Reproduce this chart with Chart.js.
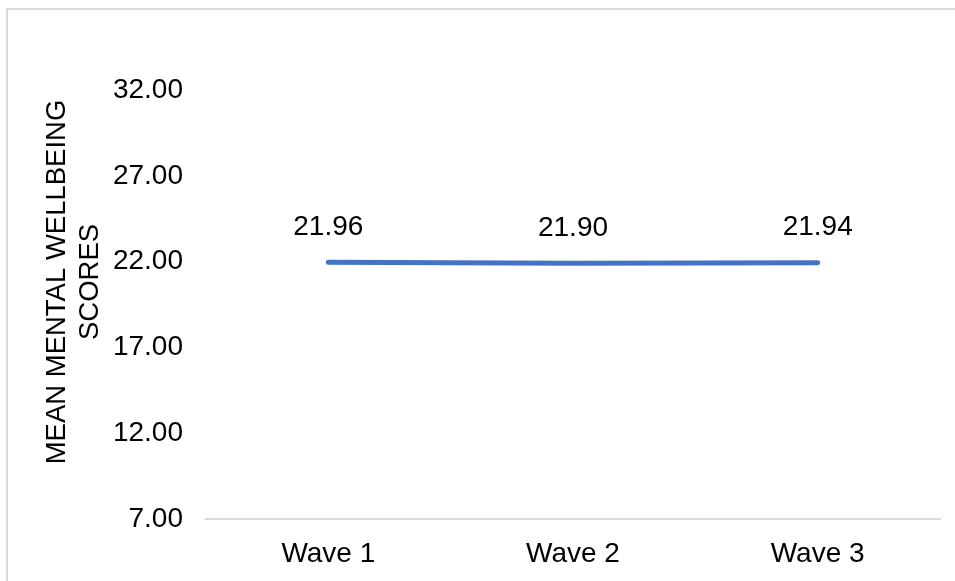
<!DOCTYPE html>
<html>
<head>
<meta charset="utf-8">
<script src="https://cdn.jsdelivr.net/npm/chart.js@4"></script>
<style>
  html, body { margin: 0; padding: 0; background: #fff; }
  #frame { position: absolute; left: 6px; top: 8px; width: 1100px; height: 700px; border: 2px solid #d9d9d9; }
  #chart { position: absolute; left: 0; top: 0; }
</style>
</head>
<body>
<div id="frame"></div>
<canvas id="chart" width="955" height="581"></canvas>
<script>
const waves = ['Wave 1', 'Wave 2', 'Wave 3'];
const scores = [21.96, 21.90, 21.94];
const yTicks = [7, 12, 17, 22, 27, 32];
const yTitle = ['MEAN MENTAL WELLBEING', 'SCORES'];

const FONT = '"Liberation Sans", Arial, sans-serif';

// value labels above points + rotated axis title
const extras = {
  id: 'extras',
  afterDatasetsDraw(chart) {
    const ctx = chart.ctx;
    const meta = chart.getDatasetMeta(0);
    ctx.save();
    ctx.font = '28px ' + FONT;
    ctx.fillStyle = '#000';
    ctx.textAlign = 'center';
    ctx.textBaseline = 'middle';
    meta.data.forEach((pt, i) => {
      ctx.fillText(scores[i].toFixed(2), pt.x, pt.y - 35);
    });
    ctx.font = '27.5px ' + FONT;
    ctx.translate(0, 282);
    ctx.rotate(-Math.PI / 2);
    ctx.fillText(yTitle[0], 0, 57);
    ctx.fillText(yTitle[1], 0, 90);
    ctx.restore();
  }
};

new Chart(document.getElementById('chart').getContext('2d'), {
  type: 'line',
  data: {
    labels: waves,
    datasets: [{
      data: scores,
      borderColor: '#4472C4',
      borderWidth: 5,
      borderCapStyle: 'round',
      pointRadius: 0,
      tension: 0
    }]
  },
  options: {
    responsive: false,
    animation: false,
    layout: { padding: { top: 90, right: 15, bottom: 0, left: 0 } },
    plugins: { legend: { display: false }, tooltip: { enabled: false } },
    scales: {
      x: {
        offset: true,
        grid: { display: false, drawTicks: false },
        border: { display: true, color: '#d9d9d9', width: 2 },
        ticks: { color: '#000', font: { family: FONT, size: 28 }, padding: 18 },
        afterFit: s => { s.height = 62; }
      },
      y: {
        min: yTicks[0],
        max: yTicks[yTicks.length - 1],
        grid: { display: false, drawTicks: false },
        border: { display: false },
        afterBuildTicks: s => { s.ticks = yTicks.map(v => ({ value: v })); },
        ticks: {
          color: '#000',
          font: { family: FONT, size: 28 },
          padding: 23,
          callback: v => Number(v).toFixed(2)
        },
        afterFit: s => { s.width = 206; }
      }
    }
  },
  plugins: [extras]
});
</script>
</body>
</html>
